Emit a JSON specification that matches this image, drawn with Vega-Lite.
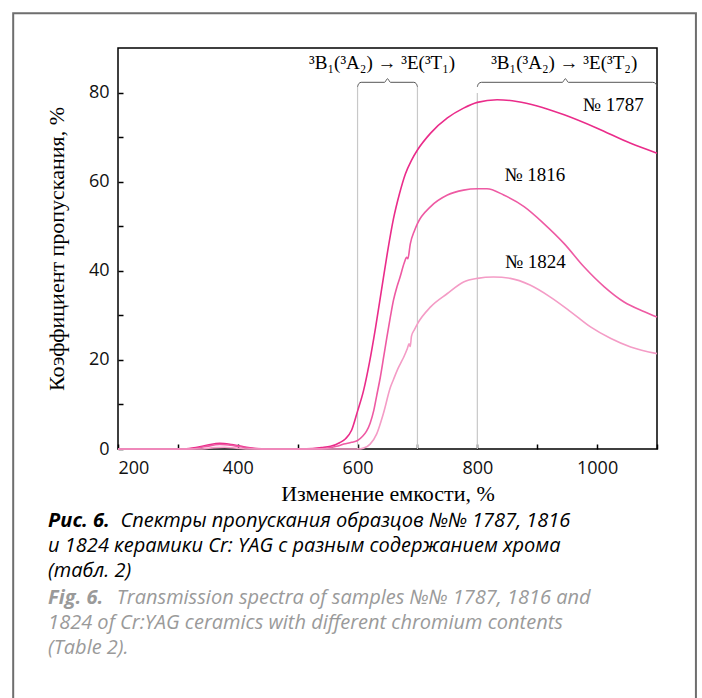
{
  "$schema": "https://vega.github.io/schema/vega-lite/v6.json",
  "width": 539,
  "height": 401,
  "autosize": {"type": "none"},
  "padding": {"left": 118, "top": 48, "right": 45, "bottom": 249},
  "background": "#ffffff",
  "config": {
    "view": {"stroke": "#000000", "strokeWidth": 1.5},
    "axis": {
      "grid": false,
      "domain": false,
      "tickColor": "#000000",
      "tickWidth": 1.5,
      "tickSize": -5,
      "labelFont": "Open Sans",
      "labelFontSize": 18,
      "labelColor": "#111111",
      "titleFont": "Liberation Serif",
      "titleFontSize": 22,
      "titleFontWeight": "normal",
      "titleColor": "#000000"
    }
  },
  "datasets": {
    "frame": [{"x1": 25, "x2": 1165, "y1": 97.8, "y2": -60}],
    "rules": [{"x": 600, "bottom": 0, "top": 81.3}, {"x": 700, "bottom": 0, "top": 81.3}, {"x": 800, "bottom": 0, "top": 79.9}],
    "braces": [
      {"b": "a", "i": 0, "x": 600, "y": 81.3},
      {"b": "a", "i": 1, "x": 602, "y": 82.0},
      {"b": "a", "i": 2, "x": 606, "y": 82.3},
      {"b": "a", "i": 3, "x": 645, "y": 82.3},
      {"b": "a", "i": 4, "x": 650, "y": 83.1},
      {"b": "a", "i": 5, "x": 655, "y": 82.3},
      {"b": "a", "i": 6, "x": 694, "y": 82.3},
      {"b": "a", "i": 7, "x": 698, "y": 82.0},
      {"b": "a", "i": 8, "x": 700, "y": 81.3},
      {"b": "b", "i": 0, "x": 800, "y": 81.3},
      {"b": "b", "i": 1, "x": 802, "y": 82.0},
      {"b": "b", "i": 2, "x": 807, "y": 82.3},
      {"b": "b", "i": 3, "x": 942, "y": 82.3},
      {"b": "b", "i": 4, "x": 947, "y": 83.1},
      {"b": "b", "i": 5, "x": 952, "y": 82.3},
      {"b": "b", "i": 6, "x": 1093, "y": 82.3},
      {"b": "b", "i": 7, "x": 1098, "y": 82.0},
      {"b": "b", "i": 8, "x": 1100, "y": 81.3}
    ],
    "transitions": [
      {"x": 641, "y": 86.6, "text": "³B₁(³A₂) → ³E(³T₁)"},
      {"x": 945, "y": 86.6, "text": "³B₁(³A₂) → ³E(³T₂)"}
    ],
    "samples": [
      {"x": 1027, "y": 77.2, "text": "№ 1787"},
      {"x": 896, "y": 61.5, "text": "№ 1816"},
      {"x": 897, "y": 41.9, "text": "№ 1824"}
    ],
    "caption": [
      {"kind": "ru-bold", "x": 83.3, "y": -17.6, "text": "Рис. 6."},
      {"kind": "ru", "x": 204, "y": -17.6, "text": "Спектры пропускания образцов №№ 1787, 1816"},
      {"kind": "ru", "x": 83.3, "y": -23.2, "text": "и 1824 керамики Cr: YAG с разным содержанием хрома"},
      {"kind": "ru", "x": 83.3, "y": -28.8, "text": "(табл. 2)"},
      {"kind": "en-bold", "x": 83.3, "y": -34.8, "text": "Fig. 6."},
      {"kind": "en", "x": 198, "y": -34.8, "text": "Transmission spectra of samples №№ 1787, 1816 and"},
      {"kind": "en", "x": 83.3, "y": -40.4, "text": "1824 of Cr:YAG ceramics with different chromium contents"},
      {"kind": "en", "x": 83.3, "y": -46.0, "text": "(Table 2)."}
    ],
    "spectra": [
      {"sample": "1787", "wl": 200, "T": 0},
      {"sample": "1787", "wl": 310, "T": 0},
      {"sample": "1787", "wl": 330, "T": 0.3},
      {"sample": "1787", "wl": 350, "T": 0.9},
      {"sample": "1787", "wl": 370, "T": 1.3},
      {"sample": "1787", "wl": 390, "T": 1.0},
      {"sample": "1787", "wl": 410, "T": 0.5},
      {"sample": "1787", "wl": 430, "T": 0.1},
      {"sample": "1787", "wl": 450, "T": 0},
      {"sample": "1787", "wl": 505, "T": 0},
      {"sample": "1787", "wl": 525, "T": 0.1},
      {"sample": "1787", "wl": 540, "T": 0.3},
      {"sample": "1787", "wl": 555, "T": 0.6},
      {"sample": "1787", "wl": 570, "T": 1.4},
      {"sample": "1787", "wl": 580, "T": 2.3},
      {"sample": "1787", "wl": 590, "T": 4.2},
      {"sample": "1787", "wl": 600, "T": 8.5},
      {"sample": "1787", "wl": 610, "T": 13.1},
      {"sample": "1787", "wl": 620, "T": 19.5},
      {"sample": "1787", "wl": 630, "T": 27.2},
      {"sample": "1787", "wl": 640, "T": 35.7},
      {"sample": "1787", "wl": 650, "T": 44.2},
      {"sample": "1787", "wl": 660, "T": 51.7},
      {"sample": "1787", "wl": 670, "T": 57.3},
      {"sample": "1787", "wl": 680, "T": 61.8},
      {"sample": "1787", "wl": 690, "T": 64.8},
      {"sample": "1787", "wl": 700, "T": 67.1},
      {"sample": "1787", "wl": 722, "T": 70.9},
      {"sample": "1787", "wl": 750, "T": 74.3},
      {"sample": "1787", "wl": 777, "T": 76.5},
      {"sample": "1787", "wl": 800, "T": 77.8},
      {"sample": "1787", "wl": 833, "T": 78.4},
      {"sample": "1787", "wl": 866, "T": 78.0},
      {"sample": "1787", "wl": 900, "T": 77.0},
      {"sample": "1787", "wl": 945, "T": 75.0},
      {"sample": "1787", "wl": 1000, "T": 72.0},
      {"sample": "1787", "wl": 1056, "T": 68.6},
      {"sample": "1787", "wl": 1100, "T": 66.4},
      {"sample": "1816", "wl": 200, "T": 0},
      {"sample": "1816", "wl": 320, "T": 0},
      {"sample": "1816", "wl": 345, "T": 0.5},
      {"sample": "1816", "wl": 370, "T": 1.0},
      {"sample": "1816", "wl": 395, "T": 0.7},
      {"sample": "1816", "wl": 420, "T": 0.2},
      {"sample": "1816", "wl": 440, "T": 0},
      {"sample": "1816", "wl": 530, "T": 0},
      {"sample": "1816", "wl": 550, "T": 0.2},
      {"sample": "1816", "wl": 565, "T": 0.6},
      {"sample": "1816", "wl": 577, "T": 1.1},
      {"sample": "1816", "wl": 590, "T": 1.5},
      {"sample": "1816", "wl": 600, "T": 1.9},
      {"sample": "1816", "wl": 608, "T": 2.8},
      {"sample": "1816", "wl": 615, "T": 4.0},
      {"sample": "1816", "wl": 621, "T": 5.8},
      {"sample": "1816", "wl": 627, "T": 8.6},
      {"sample": "1816", "wl": 632, "T": 12.0},
      {"sample": "1816", "wl": 638, "T": 16.1},
      {"sample": "1816", "wl": 644, "T": 21.0},
      {"sample": "1816", "wl": 649, "T": 25.1},
      {"sample": "1816", "wl": 655, "T": 29.8},
      {"sample": "1816", "wl": 660, "T": 33.4},
      {"sample": "1816", "wl": 666, "T": 36.5},
      {"sample": "1816", "wl": 671, "T": 38.6},
      {"sample": "1816", "wl": 678, "T": 41.8},
      {"sample": "1816", "wl": 682, "T": 43.0},
      {"sample": "1816", "wl": 684, "T": 42.7},
      {"sample": "1816", "wl": 688, "T": 46.0},
      {"sample": "1816", "wl": 695, "T": 49.0},
      {"sample": "1816", "wl": 700, "T": 50.6},
      {"sample": "1816", "wl": 722, "T": 54.4},
      {"sample": "1816", "wl": 750, "T": 57.0},
      {"sample": "1816", "wl": 777, "T": 58.1},
      {"sample": "1816", "wl": 800, "T": 58.4},
      {"sample": "1816", "wl": 816, "T": 58.4},
      {"sample": "1816", "wl": 844, "T": 57.0},
      {"sample": "1816", "wl": 878, "T": 54.4},
      {"sample": "1816", "wl": 911, "T": 50.6},
      {"sample": "1816", "wl": 945, "T": 46.1},
      {"sample": "1816", "wl": 978, "T": 40.9},
      {"sample": "1816", "wl": 1012, "T": 36.4},
      {"sample": "1816", "wl": 1045, "T": 33.0},
      {"sample": "1816", "wl": 1079, "T": 30.8},
      {"sample": "1816", "wl": 1100, "T": 29.6},
      {"sample": "1824", "wl": 200, "T": 0},
      {"sample": "1824", "wl": 340, "T": 0},
      {"sample": "1824", "wl": 360, "T": 0.3},
      {"sample": "1824", "wl": 378, "T": 0.4},
      {"sample": "1824", "wl": 398, "T": 0.2},
      {"sample": "1824", "wl": 420, "T": 0},
      {"sample": "1824", "wl": 600, "T": 0},
      {"sample": "1824", "wl": 610, "T": 0.2},
      {"sample": "1824", "wl": 621, "T": 1.1},
      {"sample": "1824", "wl": 632, "T": 3.4},
      {"sample": "1824", "wl": 643, "T": 7.9},
      {"sample": "1824", "wl": 655, "T": 13.9},
      {"sample": "1824", "wl": 660, "T": 15.6},
      {"sample": "1824", "wl": 666, "T": 17.6},
      {"sample": "1824", "wl": 671, "T": 19.0},
      {"sample": "1824", "wl": 677, "T": 20.6},
      {"sample": "1824", "wl": 683, "T": 22.5},
      {"sample": "1824", "wl": 686, "T": 23.6},
      {"sample": "1824", "wl": 688, "T": 23.0},
      {"sample": "1824", "wl": 690, "T": 25.3},
      {"sample": "1824", "wl": 695, "T": 26.8},
      {"sample": "1824", "wl": 700, "T": 28.1},
      {"sample": "1824", "wl": 722, "T": 31.9},
      {"sample": "1824", "wl": 750, "T": 34.9},
      {"sample": "1824", "wl": 777, "T": 37.5},
      {"sample": "1824", "wl": 800, "T": 38.3},
      {"sample": "1824", "wl": 827, "T": 38.6},
      {"sample": "1824", "wl": 855, "T": 38.3},
      {"sample": "1824", "wl": 888, "T": 36.8},
      {"sample": "1824", "wl": 922, "T": 34.1},
      {"sample": "1824", "wl": 956, "T": 30.8},
      {"sample": "1824", "wl": 989, "T": 27.4},
      {"sample": "1824", "wl": 1023, "T": 24.8},
      {"sample": "1824", "wl": 1056, "T": 22.9},
      {"sample": "1824", "wl": 1100, "T": 21.4}
    ]
  },
  "layer": [
    {
      "data": {"name": "frame"},
      "mark": {"type": "rect", "fill": "transparent", "stroke": "#6e6e6e", "strokeWidth": 2, "clip": false},
      "encoding": {
        "x": {"field": "x1", "type": "quantitative", "scale": {"domain": [200, 1100], "nice": false, "zero": false},
          "axis": {"values": [200, 300, 400, 500, 600, 700, 800, 900, 1000, 1100], "format": "d", "labelExpr": "datum.value % 200 === 0 ? datum.label : ''", "title": "Изменение емкости, %", "labelPadding": 15, "titlePadding": 6}},
        "x2": {"field": "x2"},
        "y": {"field": "y1", "type": "quantitative", "scale": {"domain": [0, 90], "nice": false, "zero": false},
          "axis": {"values": [0, 10, 20, 30, 40, 50, 60, 70, 80], "labelExpr": "datum.value % 20 === 0 ? datum.label : ''", "title": "Коэффициент пропускания, %", "labelPadding": 14, "titlePadding": 20}},
        "y2": {"field": "y2"}
      }
    },
    {
      "data": {"name": "rules"},
      "mark": {"type": "rule", "color": "#c8c8c8", "strokeWidth": 1.2},
      "encoding": {
        "x": {"field": "x", "type": "quantitative"},
        "y": {"field": "bottom", "type": "quantitative"},
        "y2": {"field": "top"}
      }
    },
    {
      "data": {"name": "spectra"},
      "mark": {"type": "line", "interpolate": "monotone", "strokeWidth": 1.6},
      "encoding": {
        "x": {"field": "wl", "type": "quantitative"},
        "y": {"field": "T", "type": "quantitative"},
        "color": {"field": "sample", "type": "nominal", "scale": {"domain": ["1787", "1816", "1824"], "range": ["#ea2c8a", "#ee5aa3", "#f49cc6"]}, "legend": null}
      }
    },
    {
      "data": {"name": "braces"},
      "mark": {"type": "line", "interpolate": "monotone", "color": "#555555", "strokeWidth": 1, "clip": false},
      "encoding": {
        "x": {"field": "x", "type": "quantitative"},
        "y": {"field": "y", "type": "quantitative"},
        "detail": {"field": "b", "type": "nominal"},
        "order": {"field": "i", "type": "quantitative"}
      }
    },
    {
      "data": {"name": "transitions"},
      "mark": {"type": "text", "font": "Liberation Serif", "fontSize": 19, "color": "#000000", "baseline": "middle", "align": "center"},
      "encoding": {
        "x": {"field": "x", "type": "quantitative"},
        "y": {"field": "y", "type": "quantitative"},
        "text": {"field": "text", "type": "nominal"}
      }
    },
    {
      "data": {"name": "samples"},
      "mark": {"type": "text", "font": "Liberation Serif", "fontSize": 19, "color": "#000000", "baseline": "middle", "align": "center"},
      "encoding": {
        "x": {"field": "x", "type": "quantitative"},
        "y": {"field": "y", "type": "quantitative"},
        "text": {"field": "text", "type": "nominal"}
      }
    },
    {
      "data": {"name": "caption"},
      "transform": [{"filter": "indexof(datum.kind, 'bold') < 0"}],
      "mark": {"type": "text", "font": "Open Sans", "fontSize": 20, "fontStyle": "italic", "fontWeight": "normal", "baseline": "alphabetic", "align": "left"},
      "encoding": {
        "x": {"field": "x", "type": "quantitative"},
        "y": {"field": "y", "type": "quantitative"},
        "text": {"field": "text", "type": "nominal"},
        "color": {"field": "kind", "type": "nominal", "scale": {"domain": ["ru-bold", "ru", "en-bold", "en"], "range": ["#000000", "#000000", "#9a9a9a", "#9a9a9a"]}, "legend": null}
      }
    },
    {
      "data": {"name": "caption"},
      "transform": [{"filter": "indexof(datum.kind, 'bold') >= 0"}],
      "mark": {"type": "text", "font": "Open Sans", "fontSize": 20, "fontStyle": "italic", "fontWeight": "bold", "baseline": "alphabetic", "align": "left"},
      "encoding": {
        "x": {"field": "x", "type": "quantitative"},
        "y": {"field": "y", "type": "quantitative"},
        "text": {"field": "text", "type": "nominal"},
        "color": {"field": "kind", "type": "nominal", "scale": {"domain": ["ru-bold", "ru", "en-bold", "en"], "range": ["#000000", "#000000", "#9a9a9a", "#9a9a9a"]}, "legend": null}
      }
    }
  ],
  "resolve": {"scale": {"color": "independent"}}
}
